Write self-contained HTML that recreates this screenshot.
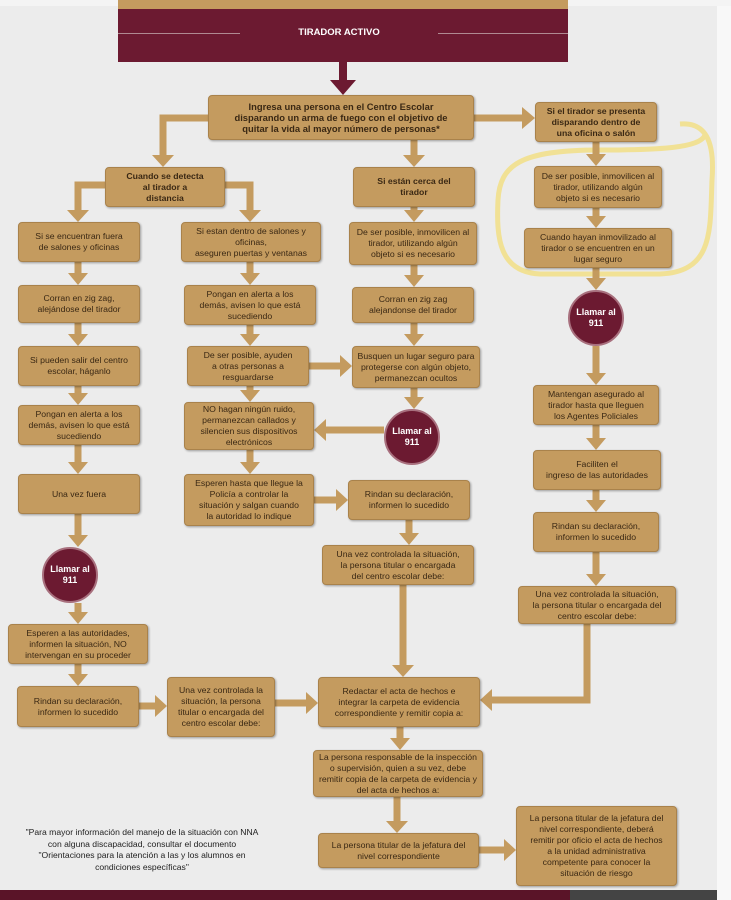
<!DOCTYPE html>
<html><head><meta charset="utf-8"><style>
body{margin:0;width:731px;height:900px;position:relative;overflow:hidden;background:#ececec;font-family:"Liberation Sans",sans-serif}
.b{position:absolute;box-sizing:border-box;background:#c49b5f;border:1.5px solid #a9824b;border-radius:4px;box-shadow:1px 1px 2px rgba(0,0,0,.35);display:flex;align-items:center;justify-content:center;text-align:center;color:#3a2814;font-size:8.7px;line-height:11px;padding:1px 6px}
.bold{font-weight:bold}
.c{position:absolute;box-sizing:border-box;border-radius:50%;background:#6c1a31;border:2px solid #a8707e;color:#fff;font-weight:bold;font-size:9px;line-height:11px;display:flex;align-items:center;justify-content:center;text-align:center}
svg{position:absolute;left:0;top:0}
</style></head><body>
<div style="position:absolute;left:717px;top:0;width:14px;height:900px;background:#f8f8f8"></div>
<div style="position:absolute;left:0;top:0;width:731px;height:6px;background:#f4f4f4"></div>
<div style="position:absolute;left:118px;top:0;width:450px;height:62px;background:#6c1a31"></div>
<div style="position:absolute;left:118px;top:0;width:450px;height:9px;background:#c49b5f"></div>
<div style="position:absolute;left:118px;top:33px;width:122px;height:1px;background:#b08a92"></div>
<div style="position:absolute;left:438px;top:33px;width:130px;height:1px;background:#b08a92"></div>
<div style="position:absolute;left:240px;top:27px;width:198px;text-align:center;color:#fff;font-size:9.5px;font-weight:bold">TIRADOR ACTIVO</div>
<div style="position:absolute;left:0;top:890px;width:570px;height:10px;background:#5a1428"></div>
<div style="position:absolute;left:570px;top:890px;width:147px;height:10px;background:#444"></div>

<svg width="731" height="900">
<g fill="none" stroke="#f2df86" stroke-width="5" opacity=".85">
<path d="M680,124 C705,122 715,140 712,180 C710,230 714,272 660,274 L540,274 C500,272 496,240 498,200 C500,165 520,150 600,150 C660,150 700,148 705,135"/>
</g>
<g stroke="#c49b5f" stroke-width="7" fill="none">
<path d="M208,118 H163 V157"/><path d="M474,118 H524"/><path d="M414,140 V157"/>
<path d="M596,142 V156"/><path d="M105,185 H78 V212"/><path d="M225,185 H250 V212"/>
<path d="M414,207 V212"/><path d="M596,208 V218"/><path d="M596,268 V280"/>
<path d="M78,262 V275"/><path d="M78,323 V336"/><path d="M78,386 V395"/><path d="M78,445 V464"/><path d="M78,514 V537"/><path d="M78,603 V614"/><path d="M78,664 V676"/>
<path d="M250,262 V275"/><path d="M250,325 V336"/><path d="M250,386 V392"/><path d="M250,450 V464"/>
<path d="M414,265 V277"/><path d="M414,323 V336"/><path d="M414,388 V399"/>
<path d="M309,366 H342"/><path d="M384,430 H324"/><path d="M314,500 H338"/>
<path d="M409,520 V535"/><path d="M403,585 V667"/>
<path d="M596,346 V375"/><path d="M596,425 V440"/><path d="M596,490 V502"/><path d="M596,552 V576"/>
<path d="M587,624 V700 H490"/><path d="M139,706 H157"/><path d="M275,703 H308"/>
<path d="M400,727 V740"/><path d="M397,797 V823"/><path d="M479,850 H506"/>
</g>
<g fill="#c49b5f">
<polygon points="152,155 174,155 163,167"/><polygon points="522,107 522,129 535,118"/><polygon points="403,155 425,155 414,167"/>
<polygon points="586,154 606,154 596,166"/><polygon points="67,210 89,210 78,222"/><polygon points="239,210 261,210 250,222"/>
<polygon points="404,210 424,210 414,222"/><polygon points="586,216 606,216 596,228"/><polygon points="586,278 606,278 596,290"/>
<polygon points="68,273 88,273 78,285"/><polygon points="68,334 88,334 78,346"/><polygon points="68,393 88,393 78,405"/><polygon points="68,462 88,462 78,474"/><polygon points="68,535 88,535 78,547"/><polygon points="68,612 88,612 78,624"/><polygon points="68,674 88,674 78,686"/>
<polygon points="240,273 260,273 250,285"/><polygon points="240,334 260,334 250,346"/><polygon points="240,390 260,390 250,402"/><polygon points="240,462 260,462 250,474"/>
<polygon points="404,275 424,275 414,287"/><polygon points="404,334 424,334 414,346"/><polygon points="404,397 424,397 414,409"/>
<polygon points="340,355 340,377 352,366"/><polygon points="326,419 326,441 314,430"/><polygon points="336,489 336,511 348,500"/>
<polygon points="399,533 419,533 409,545"/><polygon points="392,665 414,665 403,677"/>
<polygon points="586,373 606,373 596,385"/><polygon points="586,438 606,438 596,450"/><polygon points="586,500 606,500 596,512"/><polygon points="586,574 606,574 596,586"/>
<polygon points="492,689 492,711 480,700"/><polygon points="155,695 155,717 167,706"/><polygon points="306,692 306,714 318,703"/>
<polygon points="390,738 410,738 400,750"/><polygon points="386,821 408,821 397,833"/><polygon points="504,839 504,861 516,850"/>
</g>
<g stroke="#6c1a31" stroke-width="8"><path d="M343,62 V82"/></g>
<polygon points="330,80 356,80 343,95" fill="#6c1a31"/>
</svg>

<div class="b bold" style="left:208px;top:95px;width:266px;height:45px;font-size:9.4px;padding:1px 14px">Ingresa una persona en el Centro Escolar disparando un arma de fuego con el objetivo de quitar la vida al mayor número de personas*</div>
<div class="b bold" style="left:535px;top:102px;width:122px;height:40px;padding:1px 10px">Si el tirador se presenta disparando dentro de una oficina o salón</div>
<div class="b bold" style="left:105px;top:167px;width:120px;height:40px;padding:1px 12px">Cuando se detecta<br>al tirador a<br>distancia</div>
<div class="b bold" style="left:353px;top:167px;width:122px;height:40px;padding:1px 22px">Si están cerca del tirador</div>
<div class="b" style="left:534px;top:166px;width:128px;height:42px">De ser posible, inmovilicen al tirador, utilizando algún objeto si es necesario</div>
<div class="b" style="left:524px;top:228px;width:148px;height:40px;padding:1px 10px">Cuando hayan inmovilizado al tirador o se encuentren en un lugar seguro</div>
<div class="b" style="left:18px;top:222px;width:122px;height:40px;padding:1px 16px">Si se encuentran fuera de salones y oficinas</div>
<div class="b" style="left:181px;top:222px;width:140px;height:40px">Si estan dentro de salones y oficinas,<br>aseguren puertas y ventanas</div>
<div class="b" style="left:349px;top:222px;width:128px;height:43px">De ser posible, inmovilicen al tirador, utilizando algún objeto si es necesario</div>
<div class="b" style="left:18px;top:285px;width:122px;height:38px">Corran en zig zag, alejándose del tirador</div>
<div class="b" style="left:184px;top:285px;width:132px;height:40px;padding:1px 14px">Pongan en alerta a los demás, avisen lo que está sucediendo</div>
<div class="b" style="left:352px;top:287px;width:122px;height:36px;padding:1px 14px">Corran en zig zag alejandonse del tirador</div>
<div class="c" style="left:568px;top:290px;width:56px;height:56px">Llamar al<br>911</div>
<div class="b" style="left:18px;top:346px;width:122px;height:40px">Si pueden salir del centro escolar, háganlo</div>
<div class="b" style="left:187px;top:346px;width:122px;height:40px;padding:1px 12px">De ser posible, ayuden a otras personas a resguardarse</div>
<div class="b" style="left:352px;top:346px;width:128px;height:42px;padding:1px 3px">Busquen un lugar seguro para protegerse con algún objeto, permanezcan ocultos</div>
<div class="b" style="left:533px;top:385px;width:126px;height:40px;padding:1px 10px">Mantengan asegurado al tirador hasta que lleguen los Agentes Policiales</div>
<div class="b" style="left:18px;top:405px;width:122px;height:40px;padding:1px 8px">Pongan en alerta a los demás, avisen lo que está sucediendo</div>
<div class="b" style="left:184px;top:402px;width:130px;height:48px;padding:1px 12px">NO hagan ningún ruido, permanezcan callados y silencien sus dispositivos electrónicos</div>
<div class="c" style="left:384px;top:409px;width:56px;height:56px">Llamar al<br>911</div>
<div class="b" style="left:533px;top:450px;width:128px;height:40px">Faciliten el<br>ingreso de las autoridades</div>
<div class="b" style="left:18px;top:474px;width:122px;height:40px">Una vez fuera</div>
<div class="b" style="left:184px;top:474px;width:130px;height:52px;padding:1px 10px">Esperen hasta que llegue la Policía a controlar la situación y salgan cuando la autoridad lo indique</div>
<div class="b" style="left:348px;top:480px;width:122px;height:40px">Rindan su declaración, informen lo sucedido</div>
<div class="b" style="left:533px;top:512px;width:126px;height:40px">Rindan su declaración, informen lo sucedido</div>
<div class="c" style="left:42px;top:547px;width:56px;height:56px">Llamar al<br>911</div>
<div class="b" style="left:322px;top:545px;width:152px;height:40px;padding:1px 12px">Una vez controlada la situación, la persona titular o encargada del centro escolar debe:</div>
<div class="b" style="left:518px;top:586px;width:158px;height:38px;padding:1px 12px">Una vez controlada la situación, la persona titular o encargada del centro escolar debe:</div>
<div class="b" style="left:8px;top:624px;width:140px;height:40px;padding:1px 8px">Esperen a las autoridades, informen la situación, NO intervengan en su proceder</div>
<div class="b" style="left:17px;top:686px;width:122px;height:41px">Rindan su declaración, informen lo sucedido</div>
<div class="b" style="left:167px;top:677px;width:108px;height:60px;padding:1px 4px">Una vez controlada la situación, la persona titular o encargada del centro escolar debe:</div>
<div class="b" style="left:318px;top:677px;width:162px;height:50px;padding:1px 12px">Redactar el acta de hechos e integrar la carpeta de evidencia correspondiente y remitir copia a:</div>
<div class="b" style="left:313px;top:750px;width:170px;height:47px;padding:1px 4px">La persona responsable de la inspección o supervisión, quien a su vez, debe remitir copia de la carpeta de evidencia y del acta de hechos a:</div>
<div class="b" style="left:318px;top:833px;width:161px;height:35px;padding:1px 10px">La persona titular de la jefatura del nivel correspondiente</div>
<div class="b" style="left:516px;top:806px;width:161px;height:80px;padding:1px 10px">La persona titular de la jefatura del nivel correspondiente, deberá remitir por oficio el acta de hechos a la unidad administrativa competente para conocer la situación de riesgo</div>
<div style="position:absolute;left:22px;top:827px;width:240px;text-align:center;font-size:8.6px;line-height:11.5px;color:#222">"Para mayor información del manejo de la situación con NNA con alguna discapacidad, consultar el documento "Orientaciones para la atención a las y los alumnos en condiciones específicas"</div>
</body></html>
